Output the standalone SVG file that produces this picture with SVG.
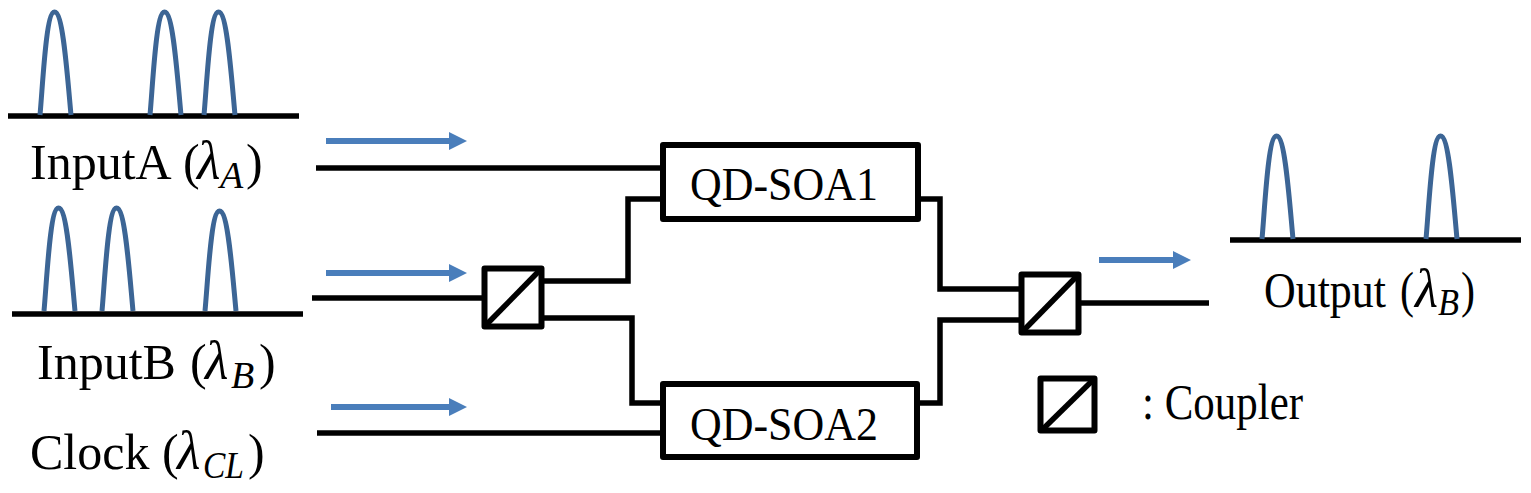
<svg xmlns="http://www.w3.org/2000/svg" width="1531" height="493" viewBox="0 0 1531 493">
<style>
.w{fill:none;stroke:#000;stroke-width:5.500}
.b{fill:#fff;stroke:#000;stroke-width:6;stroke-linejoin:round}
.p{fill:none;stroke:#3c6595;stroke-width:5}
.f{fill:#4a7ebb}
text{font-family:"Liberation Serif","Times New Roman",serif;font-size:50px;fill:#000}
.i{font-style:italic;font-size:54px}
.s{font-style:italic;font-size:38px}
.q{font-size:46px}
.o{font-size:50px}
</style>
<defs>
<path id="pulse" d="M0 103C3 70 6 0 14.500 0C23 0 27 60 31 103"/>
<path id="cp" d="M3 56L55 3"/>
</defs>
<g id="flow-arrows" class="f">
<path d="M326 138H449V132L467 141L449 150V144H326Z"/>
<path d="M326 270H449V264L467 273L449 282V276H326Z"/>
<path d="M331 404H449V398L467 407L449 416V410H331Z"/>
<path d="M1099 257H1173V251L1191 260L1173 269V263H1099Z"/>
</g>
<g id="connectors" class="w">
<path d="M316 168H662"/>
<path d="M312 298H484"/>
<path d="M317 433H662"/>
<path d="M541 281H628V199H662"/>
<path d="M541 318H632V403H662"/>
<path d="M918 199H940V289H1021"/>
<path d="M917 403H940V320H1021"/>
<path d="M1079 303H1209"/>
</g>
<g id="inputA">
<path class="w" d="M8 116H299"/>
<use class="p" href="#pulse" x="40" y="12"/><use class="p" href="#pulse" x="150" y="12"/><use class="p" href="#pulse" x="204" y="12"/>
<text x="30" y="179">InputA</text><text x="183" y="179">(</text><text class="i" x="197" y="179">λ</text><text class="s" x="220" y="188">A</text><text x="246" y="179">)</text>
</g>
<g id="inputB">
<path class="w" d="M12 314H303"/>
<use class="p" href="#pulse" x="44" y="208"/><use class="p" href="#pulse" x="102" y="208"/><use class="p" href="#pulse" transform="translate(205 211) scale(1 .97)"/>
<text x="37" y="379">InputB</text><text x="190" y="379">(</text><text class="i" x="205" y="379">λ</text><text class="s" x="231" y="388">B</text><text x="259" y="379">)</text>
</g>
<g id="clock">
<text x="30" y="469">Clock</text><text x="162" y="469">(</text><text class="i" x="177" y="469">λ</text><text class="s" x="203" y="478" textLength="41" lengthAdjust="spacingAndGlyphs">CL</text><text x="248" y="469">)</text>
</g>
<g id="qd-soa1"><rect class="b" x="663" y="145" width="255" height="74"/><text class="q" x="690" y="200" textLength="188" lengthAdjust="spacingAndGlyphs">QD-SOA1</text></g>
<g id="qd-soa2"><rect class="b" x="663" y="384" width="254" height="73"/><text class="q" x="690" y="440" textLength="188" lengthAdjust="spacingAndGlyphs">QD-SOA2</text></g>
<g id="coupler1"><rect class="b" x="484.500" y="268.500" width="57" height="58"/><use class="w" href="#cp" x="484" y="268"/></g>
<g id="coupler2"><rect class="b" x="1021.500" y="274.500" width="57" height="58"/><use class="w" href="#cp" x="1021" y="274"/></g>
<g id="output">
<path class="w" d="M1230 240H1521"/>
<use class="p" href="#pulse" x="1262" y="136"/><use class="p" href="#pulse" x="1426" y="136"/>
<text class="o" x="1264" y="307" textLength="122" lengthAdjust="spacingAndGlyphs">Output</text><text class="o" x="1400" y="307" textLength="14" lengthAdjust="spacingAndGlyphs">(</text><text class="i" x="1415" y="307" textLength="23" lengthAdjust="spacingAndGlyphs">λ</text><text class="s" x="1438" y="315" textLength="21" lengthAdjust="spacingAndGlyphs">B</text><text class="o" x="1461" y="307" textLength="14" lengthAdjust="spacingAndGlyphs">)</text>
</g>
<g id="legend"><rect class="b" x="1040.500" y="378.500" width="54" height="52"/><path class="w" d="M1043 429L1093 380"/>
<text class="o" x="1142" y="419" textLength="161" lengthAdjust="spacingAndGlyphs">: Coupler</text></g>
</svg>
